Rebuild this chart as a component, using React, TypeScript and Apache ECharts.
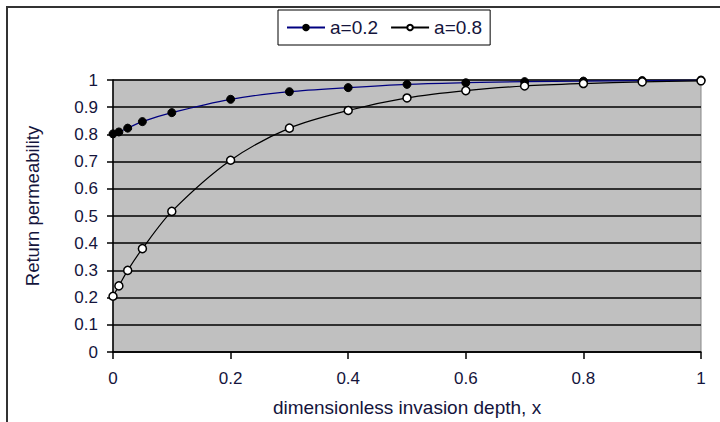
import React, { useEffect, useRef } from "react";
import * as echarts from "echarts";

const xValues = [0, 0.01, 0.025, 0.05, 0.1, 0.2, 0.3, 0.4, 0.5, 0.6, 0.7, 0.8, 0.9, 1.0];
const seriesA02 = [0.802, 0.809, 0.823, 0.847, 0.880, 0.929, 0.957, 0.972, 0.984, 0.99, 0.994, 0.996, 0.998, 1.0];
const seriesA08 = [0.205, 0.243, 0.30, 0.38, 0.517, 0.705, 0.823, 0.888, 0.934, 0.961, 0.978, 0.987, 0.993, 0.997];
const seriesNames = ["a=0.2", "a=0.8"];
const xTitle = "dimensionless invasion depth, x";
const yTitle = "Return permeability";

const FONT = "'Liberation Sans', Arial, sans-serif";
const LABEL_COLOR = "#14143c";

export default function App() {
  const ref = useRef<HTMLDivElement>(null);
  useEffect(() => {
    const chart = echarts.init(ref.current!, null, { renderer: "svg" });
    const toPairs = (ys: number[]) => xValues.map((x, i) => [x, ys[i]]);
    chart.setOption({
      animation: false,
      backgroundColor: "#ffffff",
      textStyle: { fontFamily: FONT },
      graphic: [
        {
          type: "rect",
          shape: { x: 7, y: 7, width: 800, height: 500 },
          style: { fill: "none", stroke: "#333", lineWidth: 2 },
          silent: true,
        },
        {
          type: "text",
          x: 32,
          y: 206,
          rotation: Math.PI / 2,
          style: {
            text: yTitle,
            fontFamily: FONT,
            fontSize: 18.5,
            fill: LABEL_COLOR,
            align: "center",
            verticalAlign: "middle",
          },
          silent: true,
        },
      ],
      legend: {
        left: 278,
        top: 10,
        data: seriesNames,
        borderColor: "#000",
        borderWidth: 1,
        padding: [8, 8, 8, 8],
        itemGap: 12,
        itemWidth: 38,
        itemHeight: 7,
        textStyle: { fontFamily: FONT, fontSize: 19, color: LABEL_COLOR },
      },
      grid: {
        left: 113,
        right: 19,
        top: 80,
        bottom: 68,
        show: true,
        backgroundColor: "#c0c0c0",
        borderColor: "#888",
        borderWidth: 1,
        containLabel: false,
      },
      xAxis: {
        type: "value",
        min: 0,
        max: 1,
        interval: 0.2,
        name: xTitle,
        nameLocation: "middle",
        nameGap: 46,
        nameTextStyle: { fontFamily: FONT, fontSize: 19, color: LABEL_COLOR },
        axisLine: { show: true, lineStyle: { color: "#000", width: 1.5 } },
        axisTick: { show: true, length: 7, lineStyle: { color: "#000", width: 1.5 } },
        axisLabel: { fontFamily: FONT, fontSize: 17, color: LABEL_COLOR, margin: 18 },
        splitLine: { show: false },
      },
      yAxis: {
        type: "value",
        min: 0,
        max: 1,
        interval: 0.1,
        axisLine: { show: true, lineStyle: { color: "#000", width: 1.5 } },
        axisTick: { show: true, length: 6, lineStyle: { color: "#000", width: 1.5 } },
        axisLabel: {
          fontFamily: FONT,
          fontSize: 17,
          color: LABEL_COLOR,
          margin: 15,
          formatter: (v: number) => String(Math.round(v * 10) / 10),
        },
        splitLine: { show: true, lineStyle: { color: "#000", width: 1.5 } },
      },
      series: [
        {
          name: seriesNames[0],
          type: "line",
          data: toPairs(seriesA02),
          smooth: 0.3,
          symbol: "circle",
          symbolSize: 8,
          lineStyle: { color: "#000080", width: 1.2 },
          itemStyle: { color: "#000", borderColor: "#000", borderWidth: 1 },
          z: 3,
        },
        {
          name: seriesNames[1],
          type: "line",
          data: toPairs(seriesA08),
          smooth: 0.3,
          symbol: "circle",
          symbolSize: 8,
          lineStyle: { color: "#000", width: 1.2 },
          itemStyle: { color: "#fff", borderColor: "#000", borderWidth: 1.5 },
          z: 4,
        },
      ],
    });
    return () => chart.dispose();
  }, []);
  return (
    <div
      ref={ref}
      style={{ position: "absolute", left: 0, top: 0, width: 720, height: 422 }}
    />
  );
}
